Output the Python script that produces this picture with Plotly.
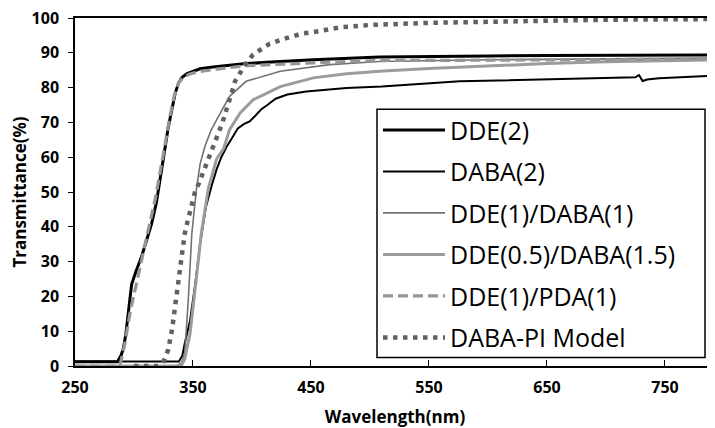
import plotly.graph_objects as go

# ---- data ----
dde2_wl = [250, 286, 289, 291, 293, 296, 298, 302, 306, 311, 315, 319, 323, 326, 329, 332, 335, 338, 341, 345,
           350, 356, 367, 380, 395, 420, 452, 508, 550, 600, 650, 700, 750, 792]
dde2_t = [1.2, 1.2, 3, 5, 9, 18, 23.5, 27.5, 31, 36.5, 41, 47, 55, 62, 68.5, 74, 78.5, 81.5, 83, 84,
          84.7, 85.4, 85.9, 86.4, 86.9, 87.4, 88, 88.8, 89, 89.1, 89.2, 89.3, 89.3, 89.4]

daba2_wl = [250, 338, 341, 343, 347.5, 352, 356, 361, 366, 370, 374, 378.5, 384, 388, 393, 398, 403, 408, 413,
            420, 430, 446, 480, 510, 576, 650, 700, 725, 728, 731, 735, 745, 792]
daba2_t = [1.3, 1.3, 3, 6.5, 13, 23.8, 35, 45.8, 52, 56.5, 60, 63, 66, 68.3, 69.5, 70.3, 72, 73.8, 75,
           76.8, 78, 78.9, 79.9, 80.3, 81.8, 82.4, 82.8, 83, 83.6, 81.9, 82.3, 82.7, 83.4]

dde1_daba1_wl = [250, 336, 340, 343, 346, 349, 353, 356, 360, 365, 370, 381, 395, 424, 466, 508, 600, 700, 792]
dde1_daba1_t = [0, 0, 0.8, 3.5, 19, 38, 51, 58, 63, 67.5, 70.7, 77.5, 81.8, 84.7, 86.6, 87.5, 88, 88.3, 88.5]

dde05_daba15_wl = [250, 340, 343, 347.5, 353, 357, 363, 370, 376, 381, 390, 401, 424, 452, 480, 508, 550, 600,
                   650, 700, 750, 792]
dde05_daba15_t = [0, 0, 2, 9.3, 25.6, 38, 51, 59.5, 62.5, 67.9, 72.7, 76.5, 80.3, 82.8, 84, 84.7, 85.5, 86.3,
                  86.9, 87.4, 87.8, 88]

dde1_pda1_wl = [250, 288, 292, 297, 301, 305, 309, 314, 318, 322, 326, 330, 334, 338, 342, 348, 355, 370, 395,
                452, 508, 550, 600, 650, 700, 750, 792]
dde1_pda1_t = [0, 0, 6, 16, 22, 28.5, 35, 42, 48, 55, 63, 71, 77.5, 81.5, 83, 84, 84.6, 85.3, 86.3,
               87.1, 87.8, 87.8, 87.9, 88, 88, 88.1, 88.2]

model_wl = [300, 320, 324, 326, 329, 331, 332.5, 333.6, 334.7, 336, 337, 338, 339, 340.7, 341.8, 343, 345, 347.5,
            349.7, 351.7, 355, 358.7, 362, 365.5, 368.6, 372, 375, 378, 381, 383, 385.6, 390, 395, 401, 408,
            415, 425, 434, 442, 451, 459, 468, 477, 486, 500, 550, 600, 650, 700, 792]
model_t = [0, 0, 0.7, 2, 4.7, 8, 11, 14, 17, 20, 23, 26, 29, 32, 35, 38, 41, 44,
           47, 50, 52.5, 55.6, 58.4, 61, 64.3, 67.3, 70, 73.1, 76, 78.7, 81.8, 84.5, 87, 89.5, 91.1,
           92.6, 93.8, 94.8, 95.5, 95.9, 96.5, 96.9, 97.4, 97.6, 98, 98.6, 99, 99.3, 99.5, 99.7]

names = ["DDE(2)", "DABA(2)", "DDE(1)/DABA(1)", "DDE(0.5)/DABA(1.5)", "DDE(1)/PDA(1)", "DABA-PI Model"]
x_ticks = [250, 350, 450, 550, 650, 750]
y_ticks = [0, 10, 20, 30, 40, 50, 60, 70, 80, 90, 100]

series = [
    (dde2_wl, dde2_t, dict(color="#000000", width=3)),
    (daba2_wl, daba2_t, dict(color="#000000", width=2)),
    (dde1_daba1_wl, dde1_daba1_t, dict(color="#727272", width=1.6)),
    (dde05_daba15_wl, dde05_daba15_t, dict(color="#9c9c9c", width=3)),
    (dde1_pda1_wl, dde1_pda1_t, dict(color="#959595", width=3.2, dash="10px,5px")),
    (model_wl, model_t, dict(color="#616161", width=4.5, dash="4.5px,5.5px")),
]

fig = go.Figure()
for i, (xs, ys, ln) in enumerate(series):
    fig.add_trace(go.Scatter(x=xs, y=ys, mode="lines", name=names[i], line=ln,
                             legendgroup=f"g{i}", cliponaxis=False))

# plot-area geometry helpers (pixels in the page -> paper fractions)
PL, PT, PW, PH = 75, 18, 640, 347.5
def px_x(p):
    return (p - PL) / PW
def px_y(p):
    return (PT + PH - p) / PH

# legend frame (white box with black border)
fig.add_shape(type="rect", xref="paper", yref="paper",
              x0=px_x(377), x1=px_x(705), y0=px_y(357), y1=px_y(109),
              fillcolor="white", line=dict(color="black", width=1.5), layer="above")

font_fam = "Open Sans"
fig.update_layout(
    width=707, height=420,
    margin=dict(l=67, r=0, t=10, b=62),
    paper_bgcolor="white", plot_bgcolor="white",
    showlegend=True,
    legend=dict(
        x=px_x(378), y=px_y(107), xanchor="left", yanchor="top",
        bgcolor="rgba(0,0,0,0)", borderwidth=0,
        font=dict(family=font_fam, size=25, color="black"),
        traceorder="grouped", tracegroupgap=6, itemwidth=62,
    ),
    xaxis=dict(
        range=[250, 792.4], tickvals=x_ticks, ticktext=[str(v) for v in x_ticks],
        showgrid=False, zeroline=False, automargin=False,
        showline=True, linecolor="black", linewidth=1.5, mirror=True,
        ticks="inside", ticklen=6, tickwidth=1.3, tickcolor="black",
        ticklabelstandoff=6, ticklabeloverflow="allow",
        tickfont=dict(family=font_fam, size=16, color="black", weight="bold"),
        title=dict(text="Wavelength(nm)", font=dict(family=font_fam, size=17, color="black", weight="bold"),
                   standoff=14),
    ),
    yaxis=dict(
        range=[0, 100], tickvals=y_ticks,
        showgrid=False, zeroline=False, automargin=False,
        showline=True, linecolor="black", linewidth=1.5,
        ticks="outside", ticklen=5, tickwidth=1.3, tickcolor="black",
        ticklabelstandoff=6, ticklabeloverflow="allow",
        tickfont=dict(family=font_fam, size=16, color="black", weight="bold"),
        title=dict(text="Transmittance(%)", font=dict(family=font_fam, size=17, color="black", weight="bold"),
                   standoff=2),
    ),
)

fig.write_html("out.html")
